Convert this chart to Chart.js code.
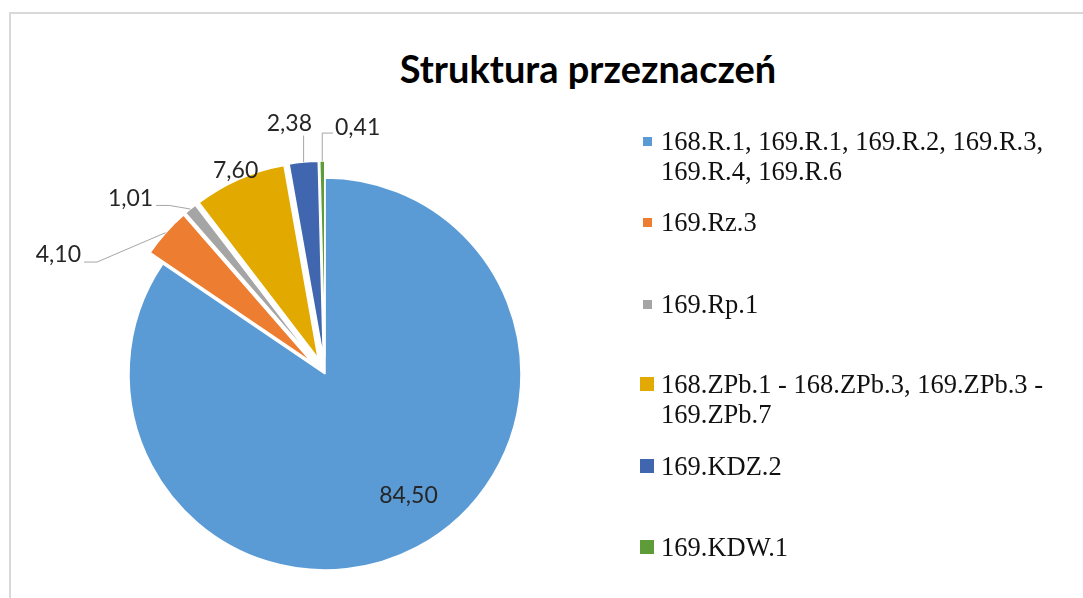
<!DOCTYPE html>
<html>
<head>
<meta charset="utf-8">
<script src="https://cdn.jsdelivr.net/npm/chart.js@4.4.0/dist/chart.umd.min.js"></script>
<style>
html, body { margin: 0; padding: 0; background: #fff; }
#wrap { position: relative; width: 1083px; height: 598px; overflow: hidden; }
#frame { position: absolute; left: 9px; top: 12px; width: 1200px; height: 700px;
         border-top: 2px solid #d9d9d9; border-left: 2px solid #d9d9d9; }
#title { position: absolute; left: 338px; width: 500px; top: 45px; text-align: center;
         font: 700 38px/46px Lato, sans-serif; color: #000; white-space: nowrap; }
#pie { position: absolute; left: 0; top: 0; }
.item { position: absolute; left: 661px; width: 400px;
        font: 26.5px/30px "Liberation Serif", serif; color: #111; }
.mk { position: absolute; }
</style>
</head>
<body>
<div id="wrap">
  <div id="frame"></div>
  <div id="title">Struktura przeznaczeń</div>
  <canvas id="pie" width="1083" height="598"></canvas>
  <div id="legend"></div>
</div>
<script>
// dane
var categories = [
    "168.R.1, 169.R.1, 169.R.2, 169.R.3, 169.R.4, 169.R.6",
    "169.Rz.3",
    "169.Rp.1",
    "168.ZPb.1 - 168.ZPb.3, 169.ZPb.3 - 169.ZPb.7",
    "169.KDZ.2",
    "169.KDW.1"
];
var shares = [84.50, 4.10, 1.01, 7.60, 2.38, 0.41];

// wyglad
var colors = ["#5B9BD5", "#ED7D31", "#A5A5A5", "#E2A900", "#3F66AF", "#5E9C3A"];
var explode = [0, 17, 17, 17, 17, 17];
var labelShift = [-6.6, -18.6, -9.3, 0, -2.5, 8.9];     // deg from slice middle
var labelDist = [0.752, 1.407, 1.251, 1.047, 1.204, 1.180]; // x radius
var leaderKind = ["none", "left", "left", "none", "below", "elbow"];
var legendTops = [126, 207, 289, 369, 450.5, 531.5];
var markerSizes = [9, 9, 9, 14, 14, 14];

// legenda
var legend = document.getElementById("legend");
categories.forEach(function(c, i) {
    var it = document.createElement("div");
    it.className = "item";
    it.style.top = legendTops[i] + "px";
    it.textContent = c;
    var mk = document.createElement("div");
    var s = markerSizes[i];
    mk.className = "mk";
    mk.style.width = s + "px";
    mk.style.height = s + "px";
    mk.style.left = (647 - s / 2) + "px";
    mk.style.top = (legendTops[i] + 15 - s / 2) + "px";
    mk.style.background = colors[i];
    legend.appendChild(mk);
    legend.appendChild(it);
});

var explodePlugin = {
    id: "explode",
    afterDatasetUpdate: function(chart, args) {
        args.meta.data.forEach(function(arc, i) {
            var mid = (arc.startAngle + arc.endAngle) / 2;
            arc.x += Math.cos(mid) * explode[i];
            arc.y += Math.sin(mid) * explode[i];
        });
    }
};

var labelPlugin = {
    id: "sliceLabels",
    afterDatasetsDraw: function(chart) {
        var ctx = chart.ctx;
        var meta = chart.getDatasetMeta(0);
        ctx.save();
        ctx.font = "23px Lato";
        ctx.textAlign = "center";
        ctx.textBaseline = "middle";
        meta.data.forEach(function(arc, i) {
            var R = arc.outerRadius;
            var mid = (arc.startAngle + arc.endAngle) / 2;
            var a = mid + labelShift[i] * Math.PI / 180;
            var lx = arc.x + Math.cos(a) * R * labelDist[i];
            var ly = arc.y + Math.sin(a) * R * labelDist[i];
            var text = shares[i].toFixed(2).replace(".", ",");
            var w = ctx.measureText(text).width;
            var px = arc.x + Math.cos(mid) * R, py = arc.y + Math.sin(mid) * R;
            ctx.strokeStyle = "#A6A6A6";
            ctx.lineWidth = 1;
            ctx.beginPath();
            if (leaderKind[i] === "left") {
                var sx = lx + w / 2 + 3, sy = ly + 7;
                ctx.moveTo(sx, sy); ctx.lineTo(sx + 13, sy); ctx.lineTo(px, py);
            } else if (leaderKind[i] === "below") {
                ctx.moveTo(px, ly + 12); ctx.lineTo(px, py);
            } else if (leaderKind[i] === "elbow") {
                var ey = ly + 5;
                ctx.moveTo(lx - w / 2 - 2, ey); ctx.lineTo(px, ey); ctx.lineTo(px, py);
            }
            ctx.stroke();
            ctx.fillStyle = "#262626";
            ctx.fillText(text, lx, ly);
        });
        ctx.restore();
    }
};

new Chart(document.getElementById("pie"), {
    type: "pie",
    data: {
        labels: categories,
        datasets: [{
            data: shares,
            backgroundColor: colors,
            borderColor: "#fff",
            borderWidth: 1.5
        }]
    },
    options: {
        responsive: false,
        devicePixelRatio: 1,
        animation: false,
        events: [],
        radius: 196,
        layout: { padding: { left: 100, right: 533, top: 150, bottom: 0 } },
        plugins: { legend: { display: false }, tooltip: { enabled: false } }
    },
    plugins: [explodePlugin, labelPlugin]
});
</script>
</body>
</html>
